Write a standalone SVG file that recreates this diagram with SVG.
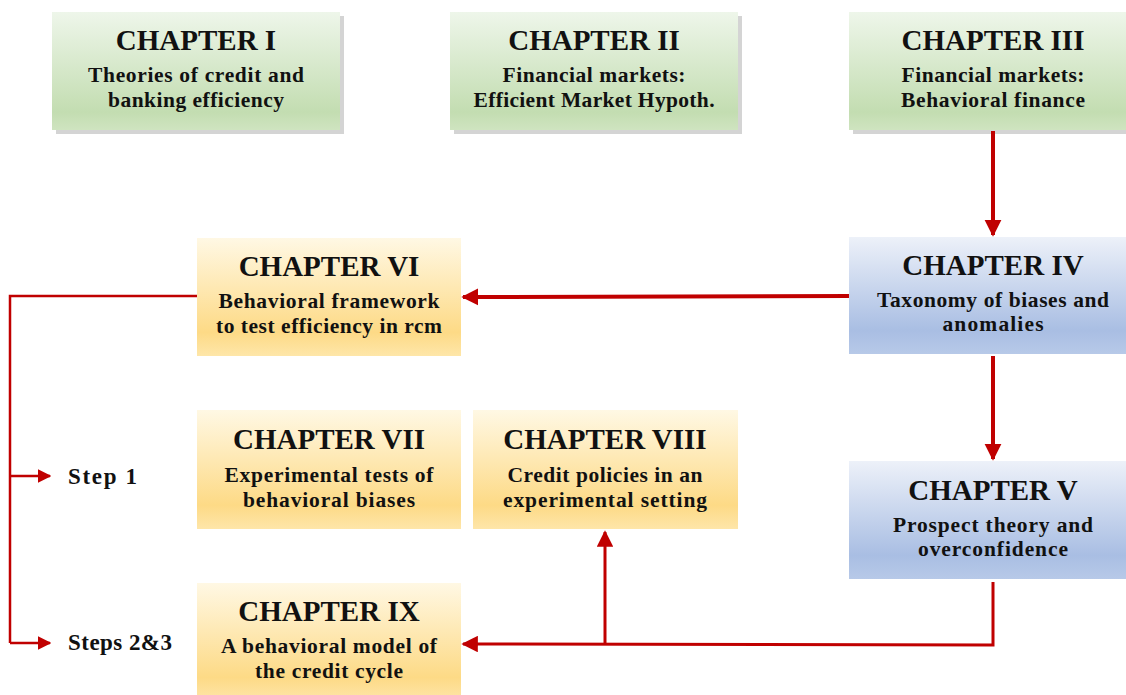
<svg xmlns="http://www.w3.org/2000/svg" width="1126" height="695" viewBox="0 0 1126 695">
<defs>
<linearGradient id="gGreen" x1="0" y1="0" x2="0" y2="1">
<stop offset="0" stop-color="#eef6ea"/><stop offset="0.85" stop-color="#c3ddb1"/><stop offset="1" stop-color="#cfe4c0"/>
</linearGradient>
<linearGradient id="gBlue" x1="0" y1="0" x2="0" y2="1">
<stop offset="0" stop-color="#edf1f9"/><stop offset="0.8" stop-color="#a9bee3"/><stop offset="1" stop-color="#b7c9e8"/>
</linearGradient>
<linearGradient id="gYellow" x1="0" y1="0" x2="0" y2="1">
<stop offset="0" stop-color="#fff8e4"/><stop offset="0.8" stop-color="#fdda86"/><stop offset="1" stop-color="#fee6a9"/>
</linearGradient>
<marker id="ah" viewBox="0 0 10 10" refX="9" refY="5" markerWidth="4.3" markerHeight="4.3" markerUnits="strokeWidth" orient="auto">
<path d="M0,0 L10,5 L0,10 z" fill="#c00000"/>
</marker>
<marker id="ahs" viewBox="0 0 10 10" refX="9" refY="5" markerWidth="5.5" markerHeight="5.5" markerUnits="strokeWidth" orient="auto">
<path d="M0,0 L10,5 L0,10 z" fill="#c00000"/>
</marker>
</defs>
<style>
.t{font-family:"Liberation Serif","Times New Roman",serif;font-weight:bold;fill:#111;text-anchor:middle}
.h{font-size:29px}
.s{font-size:21.5px}
.lbl{font-family:"Liberation Serif","Times New Roman",serif;font-weight:bold;fill:#111;font-size:23px}
.sh{fill:#d4d4d4}
.ln{fill:none;stroke:#c00000;stroke-linejoin:miter}
</style>
<rect width="1126" height="695" fill="#ffffff"/>

<g id="ch1">
<rect class="sh" x="56" y="16" width="288" height="118"/>
<rect x="52" y="12" width="288" height="118" fill="url(#gGreen)"/>
<text class="t h" x="196" y="50">CHAPTER I</text>
<text class="t s" x="196" y="82" textLength="216">Theories of credit and</text>
<text class="t s" x="196" y="107" textLength="176">banking efficiency</text>
</g>
<g id="ch2">
<rect class="sh" x="454" y="16" width="288" height="118"/>
<rect x="450" y="12" width="288" height="118" fill="url(#gGreen)"/>
<text class="t h" x="594" y="50">CHAPTER II</text>
<text class="t s" x="594" y="82" textLength="183">Financial markets:</text>
<text class="t s" x="594" y="107" textLength="241">Efficient Market Hypoth.</text>
</g>
<g id="ch3">
<rect class="sh" x="853" y="16" width="288" height="118"/>
<rect x="849" y="12" width="288" height="118" fill="url(#gGreen)"/>
<text class="t h" x="993" y="50">CHAPTER III</text>
<text class="t s" x="993" y="82" textLength="183">Financial markets:</text>
<text class="t s" x="993" y="107" textLength="184">Behavioral finance</text>
</g>
<g id="ch4">
<rect x="849" y="237" width="288" height="117" fill="url(#gBlue)"/>
<text class="t h" x="993" y="275">CHAPTER IV</text>
<text class="t s" x="993" y="307" textLength="232">Taxonomy of biases and</text>
<text class="t s" x="993" y="331" textLength="101">anomalies</text>
</g>
<g id="ch5">
<rect x="849" y="461" width="288" height="118" fill="url(#gBlue)"/>
<text class="t h" x="993" y="500">CHAPTER V</text>
<text class="t s" x="993" y="532" textLength="200">Prospect theory and</text>
<text class="t s" x="993" y="556" textLength="150">overconfidence</text>
</g>
<g id="ch6">
<rect x="197" y="238" width="264" height="118" fill="url(#gYellow)"/>
<text class="t h" x="329" y="276">CHAPTER VI</text>
<text class="t s" x="329" y="308" textLength="221">Behavioral framework</text>
<text class="t s" x="329" y="333" textLength="226">to test efficiency in rcm</text>
</g>
<g id="ch7">
<rect x="197" y="410" width="264" height="119" fill="url(#gYellow)"/>
<text class="t h" x="329" y="449">CHAPTER VII</text>
<text class="t s" x="329" y="482" textLength="209">Experimental tests of</text>
<text class="t s" x="329" y="507" textLength="172">behavioral biases</text>
</g>
<g id="ch8">
<rect x="473" y="410" width="265" height="119" fill="url(#gYellow)"/>
<text class="t h" x="605" y="449">CHAPTER VIII</text>
<text class="t s" x="605" y="482" textLength="195">Credit policies in an</text>
<text class="t s" x="605" y="507" textLength="204">experimental setting</text>
</g>
<g id="ch9">
<rect x="197" y="583" width="264" height="118" fill="url(#gYellow)"/>
<text class="t h" x="329" y="621">CHAPTER IX</text>
<text class="t s" x="329" y="653" textLength="216">A behavioral model of</text>
<text class="t s" x="329" y="678" textLength="148">the credit cycle</text>
</g>
<g id="step1"><text class="lbl" x="68" y="484" textLength="69">Step 1</text></g>
<g id="step23"><text class="lbl" x="68" y="650" textLength="104">Steps 2&amp;3</text></g>

<g id="connectors">
<path class="ln" stroke-width="4" d="M993,131 L993,235" marker-end="url(#ah)"/>
<path class="ln" stroke-width="4" d="M849,296 L463,297" marker-end="url(#ah)"/>
<path class="ln" stroke-width="4" d="M993,356 L993,459" marker-end="url(#ah)"/>
<path class="ln" stroke-width="2.5" d="M197,296 L10,296 L10,643"/>
<path class="ln" stroke-width="2.5" d="M10,476 L50,476" marker-end="url(#ahs)"/>
<path class="ln" stroke-width="2.5" d="M10,643 L50,643" marker-end="url(#ahs)"/>
<path class="ln" stroke-width="3" d="M993,582 L993,645 L463,644" marker-end="url(#ahs)"/>
<path class="ln" stroke-width="3" d="M605,644 L605,532" marker-end="url(#ahs)"/>
</g>
</svg>
